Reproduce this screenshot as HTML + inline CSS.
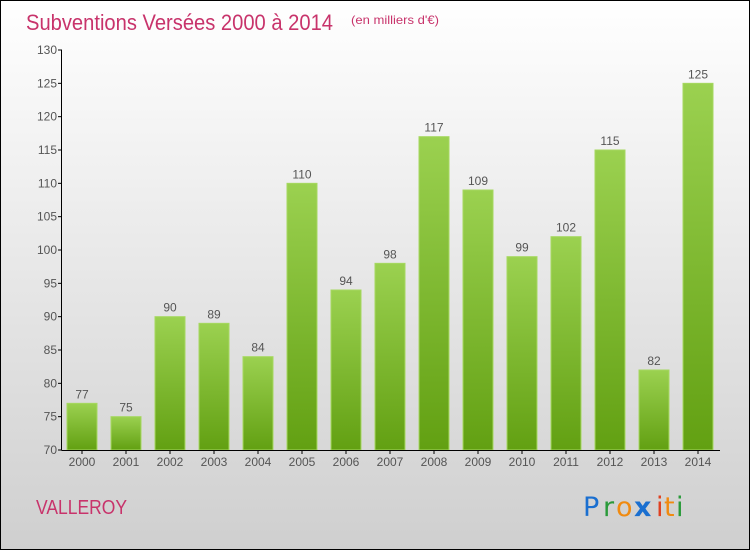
<!DOCTYPE html>
<html><head><meta charset="utf-8"><style>
html,body{margin:0;padding:0;}
body{width:750px;height:550px;overflow:hidden;font-family:"Liberation Sans",sans-serif;}
</style></head><body>
<svg id="chart" width="750" height="550" xmlns="http://www.w3.org/2000/svg">
<defs>
<linearGradient id="bg" x1="0" y1="0" x2="0" y2="1"><stop offset="0" stop-color="#ffffff"/><stop offset="1" stop-color="#cfcfcf"/></linearGradient>
<linearGradient id="bar" x1="0" y1="0" x2="0" y2="1"><stop offset="0" stop-color="#9bd150"/><stop offset="1" stop-color="#62a012"/></linearGradient>
</defs>
<rect x="0.5" y="0.5" width="749" height="549" fill="url(#bg)" stroke="#000"/>
<text x="26" y="30" font-size="22" fill="#c8336b" textLength="307" lengthAdjust="spacingAndGlyphs">Subventions Versées 2000 à 2014</text>
<text x="351" y="24" font-size="12" fill="#c8336b" textLength="88" lengthAdjust="spacingAndGlyphs">(en milliers d'€)</text>
<text x="36" y="514" font-size="20" fill="#c8336b" textLength="91" lengthAdjust="spacingAndGlyphs">VALLEROY</text>
<g font-size="27" font-family="DejaVu Sans, sans-serif">
<text x="583" y="516" fill="#1a6fd0">P</text><text x="603" y="516" fill="#2a9a3a">r</text><text x="616" y="516" fill="#f08a10">o</text><text x="634" y="516" fill="#1a6fd0" font-weight="bold">x</text><text x="656" y="516" fill="#e04020">i</text><text x="664" y="516" fill="#f08a10">t</text><text x="676" y="516" fill="#2a9a3a">i</text>
</g>
<g id="plot"></g>
</svg>
<script>
const years=["2000","2001","2002","2003","2004","2005","2006","2007","2008","2009","2010","2011","2012","2013","2014"];
const values=[77,75,90,89,84,110,94,98,117,109,99,102,115,82,125];
const ticks=[70,75,80,85,90,95,100,105,110,115,120,125,130];
const NS="http://www.w3.org/2000/svg";
const g=document.getElementById('plot');
const y=v=>450-(v-70)*400/60;
const x=i=>82+i*44;
function mk(t,a,txt){const e=document.createElementNS(NS,t);for(const k in a)e.setAttribute(k,a[k]);if(txt!==undefined)e.textContent=txt;g.appendChild(e);return e;}
values.forEach((v,i)=>{
 const r=mk('rect',{x:x(i)-15,y:y(v),width:30,height:450-y(v),fill:'url(#bar)',stroke:'#a6d860','stroke-width':1});
 
 
 const l=mk('text',{x:x(i),y:y(v)-5,'text-anchor':'middle','font-size':12,fill:'#555'},v);
 
 
 const xl=mk('text',{x:x(i),y:466,'text-anchor':'middle','font-size':12,fill:'#555'},years[i]);
 
 
 const tk=mk('line',{x1:x(i),x2:x(i),y1:450,y2:454,stroke:'#000'});
 
 
});
ticks.forEach(t=>{
 const tl=mk('text',{x:57,y:y(t)+4,'text-anchor':'end','font-size':12,fill:'#555'},t);
 
 
 const tk=mk('line',{x1:58,x2:62,y1:y(t),y2:y(t),stroke:'#000'});
 
 
});
const ya=mk('line',{x1:61.5,x2:61.5,y1:y(130),y2:450,stroke:'#000'});


const xa=mk('line',{x1:61.5,x2:720,y1:450.5,y2:450.5,stroke:'#000'});


</script>
</body></html>
